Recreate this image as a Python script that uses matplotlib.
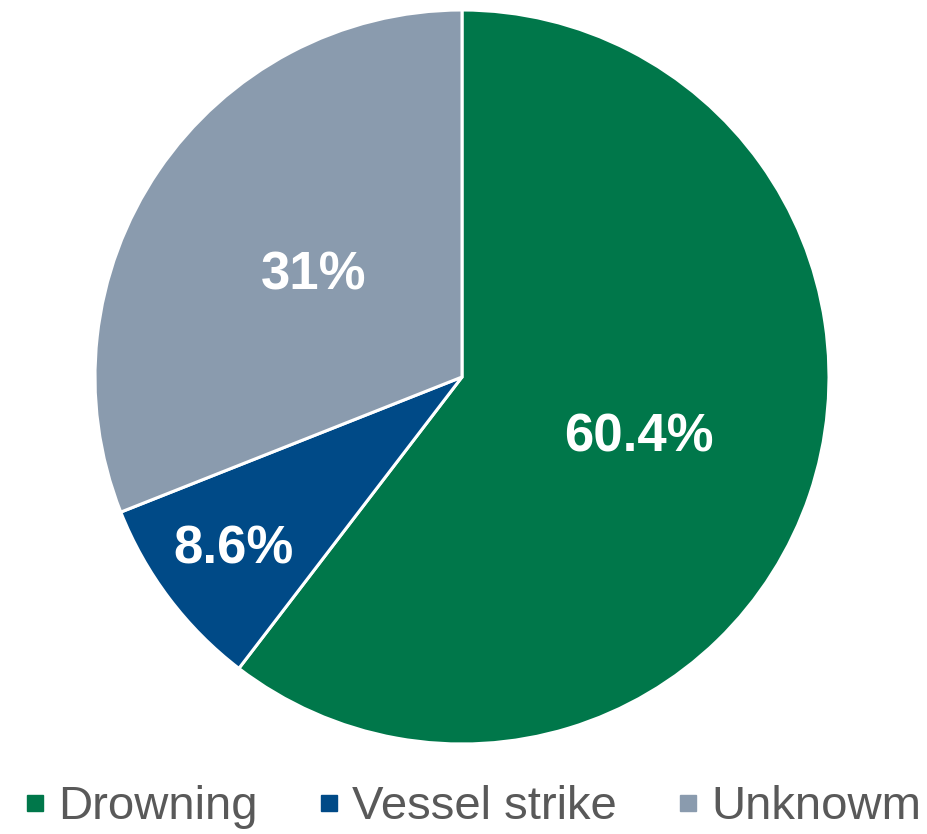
import numpy as np
import matplotlib.pyplot as plt
from matplotlib.lines import Line2D

plt.rcParams['font.family'] = ['Liberation Sans', 'DejaVu Sans']

categories = ['Drowning', 'Vessel strike', 'Unknowm']
values = [60.4, 8.6, 31.0]
pct_labels = ['60.4%', '8.6%', '31%']
colors = ['#00774A', '#004A87', '#8A9BAE']
label_dist = [0.51, 0.78, 0.49]

W, H = 928, 834
cx, cy, r = 462, 377, 367

fig = plt.figure(figsize=(W / 100, H / 100), dpi=100)
ax = fig.add_axes([(cx - r) / W, (H - cy - r) / H, 2 * r / W, 2 * r / H])

wedges, _ = ax.pie(values, colors=colors, startangle=90, counterclock=False,
                   wedgeprops=dict(edgecolor='white', linewidth=2.2))
ax.set_xlim(-1, 1)
ax.set_ylim(-1, 1)
ax.set_aspect('equal')

# percentage labels, placed along each wedge's middle angle
for w, txt, d in zip(wedges, pct_labels, label_dist):
    ang = np.deg2rad((w.theta1 + w.theta2) / 2)
    ax.text(d * np.cos(ang), d * np.sin(ang), txt, ha='center', va='center',
            color='white', fontsize=38, fontweight='bold')

handles = [Line2D([0], [0], marker='s', linestyle='none', markersize=12,
                  markerfacecolor=c, markeredgecolor=c) for c in colors]
leg = fig.legend(handles, categories, loc='lower center', ncol=3,
                 bbox_to_anchor=(0.505, -0.045), frameon=False, fontsize=34,
                 handletextpad=0.1, columnspacing=1.1, handlelength=0.8)
for t in leg.get_texts():
    t.set_color('#595959')

fig.savefig('out.png', dpi=100)
